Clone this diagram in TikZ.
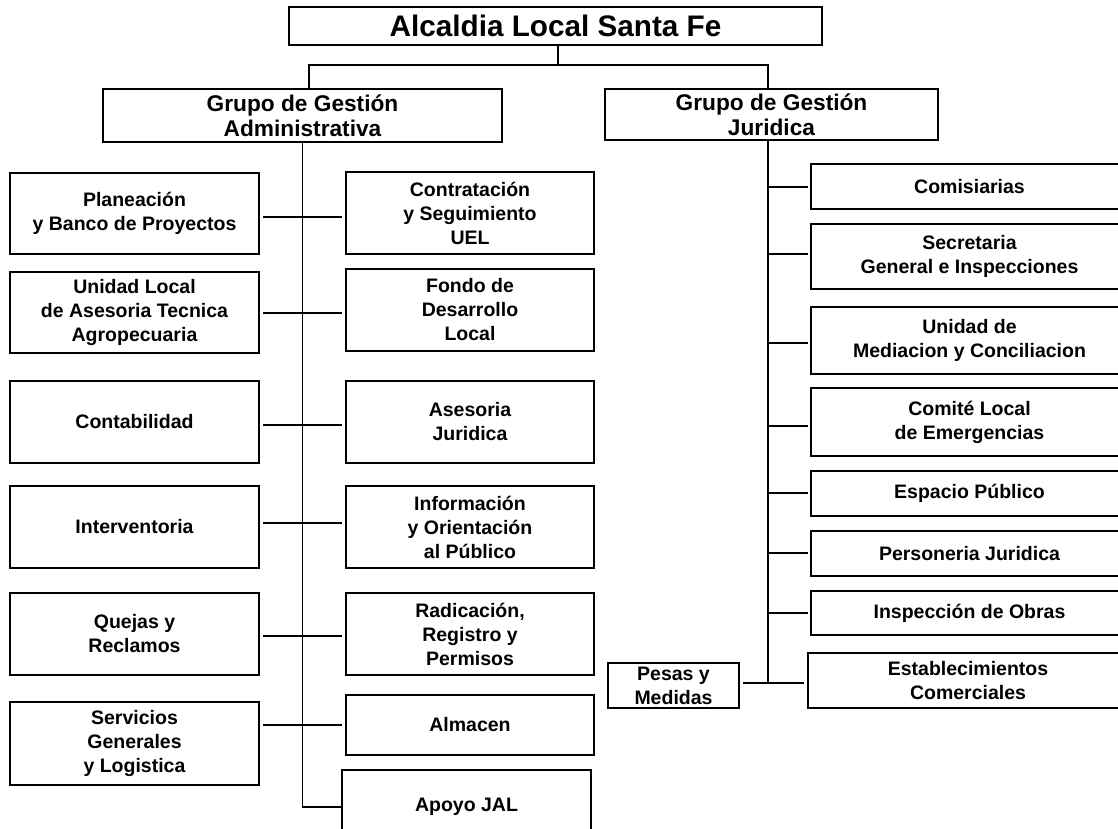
\documentclass[tikz,border=0pt]{standalone}
\usepackage{fontspec}
\setmainfont{Liberation Sans}
\tikzset{
  box/.style={draw=black, line width=1.6pt, inner sep=0pt, align=center, font=\fontsize{19.5}{24}\selectfont\bfseries},
  hbox/.style={box, font=\fontsize{22.7}{25}\selectfont\bfseries},
  tbox/.style={box, font=\fontsize{29.7}{34}\selectfont\bfseries},
  link/.style={draw=black, line width=1.5pt},
  stub/.style={link, shorten <=3pt, shorten >=3pt},
  rstub/.style={link, shorten >=2pt}
}
% style, name, x1, y1, x2, y2, text
\newcommand\mybox[7]{\node[#1, minimum width={#5-#3}, minimum height={#6-#4}] (#2) at ({(#3+#5)/2},{(#4+#6)/2}) {#7};}
\begin{document}
\begin{tikzpicture}[x=1pt,y=-1pt]
\clip (0,0) rectangle (1118,828);
\fill[white] (0,0) rectangle (1118,828);
% top
\mybox{tbox}{title}{289}{7}{822}{45}{Alcaldia Local Santa Fe}
\mybox{hbox}{adm}{103}{89}{502}{142}{Grupo de Gestión\\Administrativa}
\mybox{hbox}{jur}{605}{89}{938}{140}{Grupo de Gestión\\Juridica}
% left column
\mybox{box}{plan}{10}{173}{259}{254}{Planeación\\y Banco de Proyectos}
\mybox{box}{ulata}{10}{272}{259}{353}{Unidad Local\\de Asesoria Tecnica\\Agropecuaria}
\mybox{box}{conta}{10}{381}{259}{463}{Contabilidad}
\mybox{box}{interv}{10}{486}{259}{568}{Interventoria}
\mybox{box}{quejas}{10}{593}{259}{675}{Quejas y\\Reclamos}
\mybox{box}{serv}{10}{702}{259}{785}{Servicios\\Generales\\y Logistica}
% middle column
\mybox{box}{contr}{346}{172}{594}{254}{Contratación\\y Seguimiento\\UEL}
\mybox{box}{fondo}{346}{269}{594}{351}{Fondo de\\Desarrollo\\Local}
\mybox{box}{aseso}{346}{381}{594}{463}{Asesoria\\Juridica}
\mybox{box}{info}{346}{486}{594}{568}{Información\\y Orientación\\al Público}
\mybox{box}{radic}{346}{593}{594}{675}{Radicación,\\Registro y\\Permisos}
\mybox{box}{almac}{346}{695}{594}{755}{Almacen}
\mybox{box}{apoyo}{342}{770}{591}{844}{Apoyo JAL}
% right column
\mybox{box}{comis}{811}{164}{1128}{209}{Comisiarias}
\mybox{box}{secre}{811}{224}{1128}{289}{Secretaria\\General e Inspecciones}
\mybox{box}{media}{811}{307}{1128}{374}{Unidad de\\Mediacion y Conciliacion}
\mybox{box}{comite}{811}{388}{1128}{456}{Comité Local\\de Emergencias}
\mybox{box}{espac}{811}{471}{1128}{516}{Espacio Público}
\mybox{box}{perso}{811}{531}{1128}{576}{Personeria Juridica}
\mybox{box}{inspe}{811}{591}{1128}{635}{Inspección de Obras}
\mybox{box}{estab}{808}{653}{1128}{708}{Establecimientos\\Comerciales}
\mybox{box}{pesas}{608}{663}{739}{708}{Pesas y\\Medidas}
% connector levels
\coordinate (bar) at (558,65);
\coordinate (jend) at (768,683);
\coordinate (l1) at (0,217);
\coordinate (l2) at (0,313);
\coordinate (l3) at (0,425);
\coordinate (l4) at (0,523);
\coordinate (l5) at (0,636);
\coordinate (l6) at (0,725);
\coordinate (r1) at (0,187);
\coordinate (r2) at (0,254);
\coordinate (r3) at (0,343);
\coordinate (r4) at (0,426);
\coordinate (r5) at (0,493);
\coordinate (r6) at (0,553);
\coordinate (r7) at (0,613);
% connectors
\draw[link] (title.south -| bar) -- (bar);
\draw[link] ([xshift=6.5pt]adm.north) |- (bar) -| ([xshift=-3.5pt]jur.north);
\draw[link] (adm.south) |- (apoyo.west);
\draw[stub] (plan.east |- l1) -- (contr.west |- l1);
\draw[stub] (ulata.east |- l2) -- (fondo.west |- l2);
\draw[stub] (conta.east |- l3) -- (aseso.west |- l3);
\draw[stub] (interv.east |- l4) -- (info.west |- l4);
\draw[stub] (quejas.east |- l5) -- (radic.west |- l5);
\draw[stub] (serv.east |- l6) -- (almac.west |- l6);
\draw[link] ([xshift=-3.5pt]jur.south) -- (jend);
\draw[rstub] (jend |- r1) -- (comis.west |- r1);
\draw[rstub] (jend |- r2) -- (secre.west |- r2);
\draw[rstub] (jend |- r3) -- (media.west |- r3);
\draw[rstub] (jend |- r4) -- (comite.west |- r4);
\draw[rstub] (jend |- r5) -- (espac.west |- r5);
\draw[rstub] (jend |- r6) -- (perso.west |- r6);
\draw[rstub] (jend |- r7) -- (inspe.west |- r7);
\draw[stub] (pesas.east |- jend) -- (estab.west |- jend);
\end{tikzpicture}
\end{document}
